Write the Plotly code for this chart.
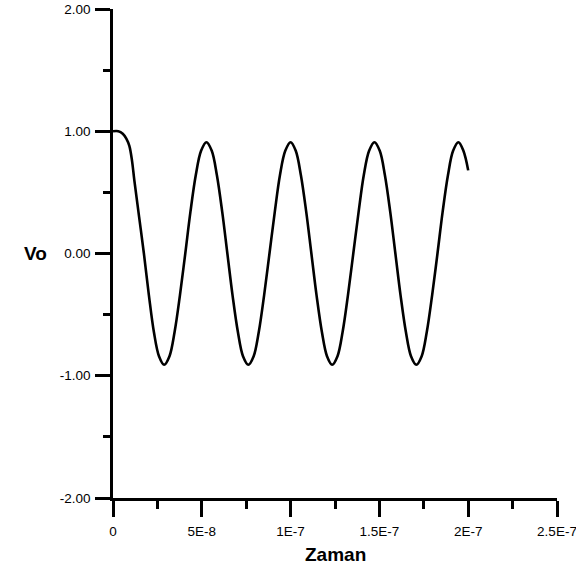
import plotly.graph_objects as go

# time in nanoseconds, Vo values
t_ns = [0.0, 3.0, 5.5, 7.5, 9.2, 10.7, 12.0, 14.7, 17.4, 20.2, 23.0, 25.9, 28.8,
        31.8, 34.7, 37.7, 40.7, 43.6, 46.6, 49.6, 52.6,
        55.6, 58.5, 61.5, 64.4, 67.3, 70.3, 73.2, 76.2,
        79.2, 82.1, 85.1, 88.1, 91.1, 94.0, 97.0, 100.0,
        102.9, 105.8, 108.8, 111.7, 114.6, 117.6, 120.5, 123.4,
        126.4, 129.3, 132.3, 135.3, 138.3, 141.2, 144.2, 147.2,
        150.2, 153.1, 156.1, 159.0, 161.9, 164.9, 167.8, 170.8,
        173.8, 176.7, 179.7, 182.7, 185.6, 188.6, 191.5, 194.5,
        197.3, 200.0]
vo = [1.00, 1.00, 0.98, 0.94, 0.88, 0.76, 0.60, 0.30, 0.00, -0.34, -0.64, -0.84, -0.91,
      -0.84, -0.64, -0.34, 0.00, 0.34, 0.64, 0.84, 0.91,
      0.84, 0.64, 0.34, 0.00, -0.34, -0.64, -0.84, -0.91,
      -0.84, -0.64, -0.34, 0.00, 0.34, 0.64, 0.84, 0.91,
      0.84, 0.64, 0.34, 0.00, -0.34, -0.64, -0.84, -0.91,
      -0.84, -0.64, -0.34, 0.00, 0.34, 0.64, 0.84, 0.91,
      0.84, 0.64, 0.34, 0.00, -0.34, -0.64, -0.84, -0.91,
      -0.84, -0.64, -0.34, 0.00, 0.34, 0.64, 0.84, 0.91,
      0.84, 0.68]

x_tickvals = [0, 5e-8, 1e-7, 1.5e-7, 2e-7, 2.5e-7]
x_ticktext = ["0", "5E-8", "1E-7", "1.5E-7", "2E-7", "2.5E-7"]
y_tickvals = [-2, -1, 0, 1, 2]
y_ticktext = ["-2.00", "-1.00", "0.00", "1.00", "2.00"]

t = [v * 1e-9 for v in t_ns]

fig = go.Figure()
fig.add_trace(go.Scatter(x=t, y=vo, mode="lines",
                         line=dict(color="black", width=2.6, shape="spline", smoothing=1.0),
                         showlegend=False, hoverinfo="skip"))

fam = "Liberation Sans, Arial, sans-serif"
tickfont = dict(family=fam, size=13.5, color="black")
fig.update_layout(
    width=576, height=571,
    margin=dict(l=113, r=19, t=9, b=73, autoexpand=False),
    paper_bgcolor="white", plot_bgcolor="white",
    xaxis=dict(range=[0, 2.5e-7], tickmode="array", tickvals=x_tickvals, ticktext=x_ticktext,
               automargin=False, ticklabeloverflow="allow",
               showline=True, linecolor="black", linewidth=2.5, showgrid=False, zeroline=False,
               ticks="outside", ticklen=16, tickwidth=2.5, tickcolor="black", tickfont=tickfont,
               ticklabelstandoff=3,
               minor=dict(tickmode="linear", tick0=0, dtick=2.5e-8, ticks="outside",
                          ticklen=8, tickwidth=2.5, tickcolor="black", showgrid=False)),
    yaxis=dict(range=[-2, 2], tickmode="array", tickvals=y_tickvals, ticktext=y_ticktext,
               automargin=False, ticklabeloverflow="allow",
               showline=True, linecolor="black", linewidth=2.5, showgrid=False, zeroline=False,
               ticks="outside", ticklen=15, tickwidth=2.5, tickcolor="black", tickfont=tickfont,
               ticklabelstandoff=2,
               minor=dict(tickmode="linear", tick0=0, dtick=0.5, ticks="outside",
                          ticklen=7, tickwidth=2.5, tickcolor="black", showgrid=False)),
    annotations=[
        dict(text="<b>Vo</b>", xref="paper", yref="y", x=0, y=0, xanchor="center",
             yanchor="middle", xshift=-78, showarrow=False,
             font=dict(family=fam, size=19, color="black")),
        dict(text="<b>Zaman</b>", xref="paper", yref="paper", x=0.5, y=0, xanchor="center",
             yanchor="middle", yshift=-56, showarrow=False,
             font=dict(family=fam, size=19, color="black")),
    ],
)

fig.write_html("out.html")
